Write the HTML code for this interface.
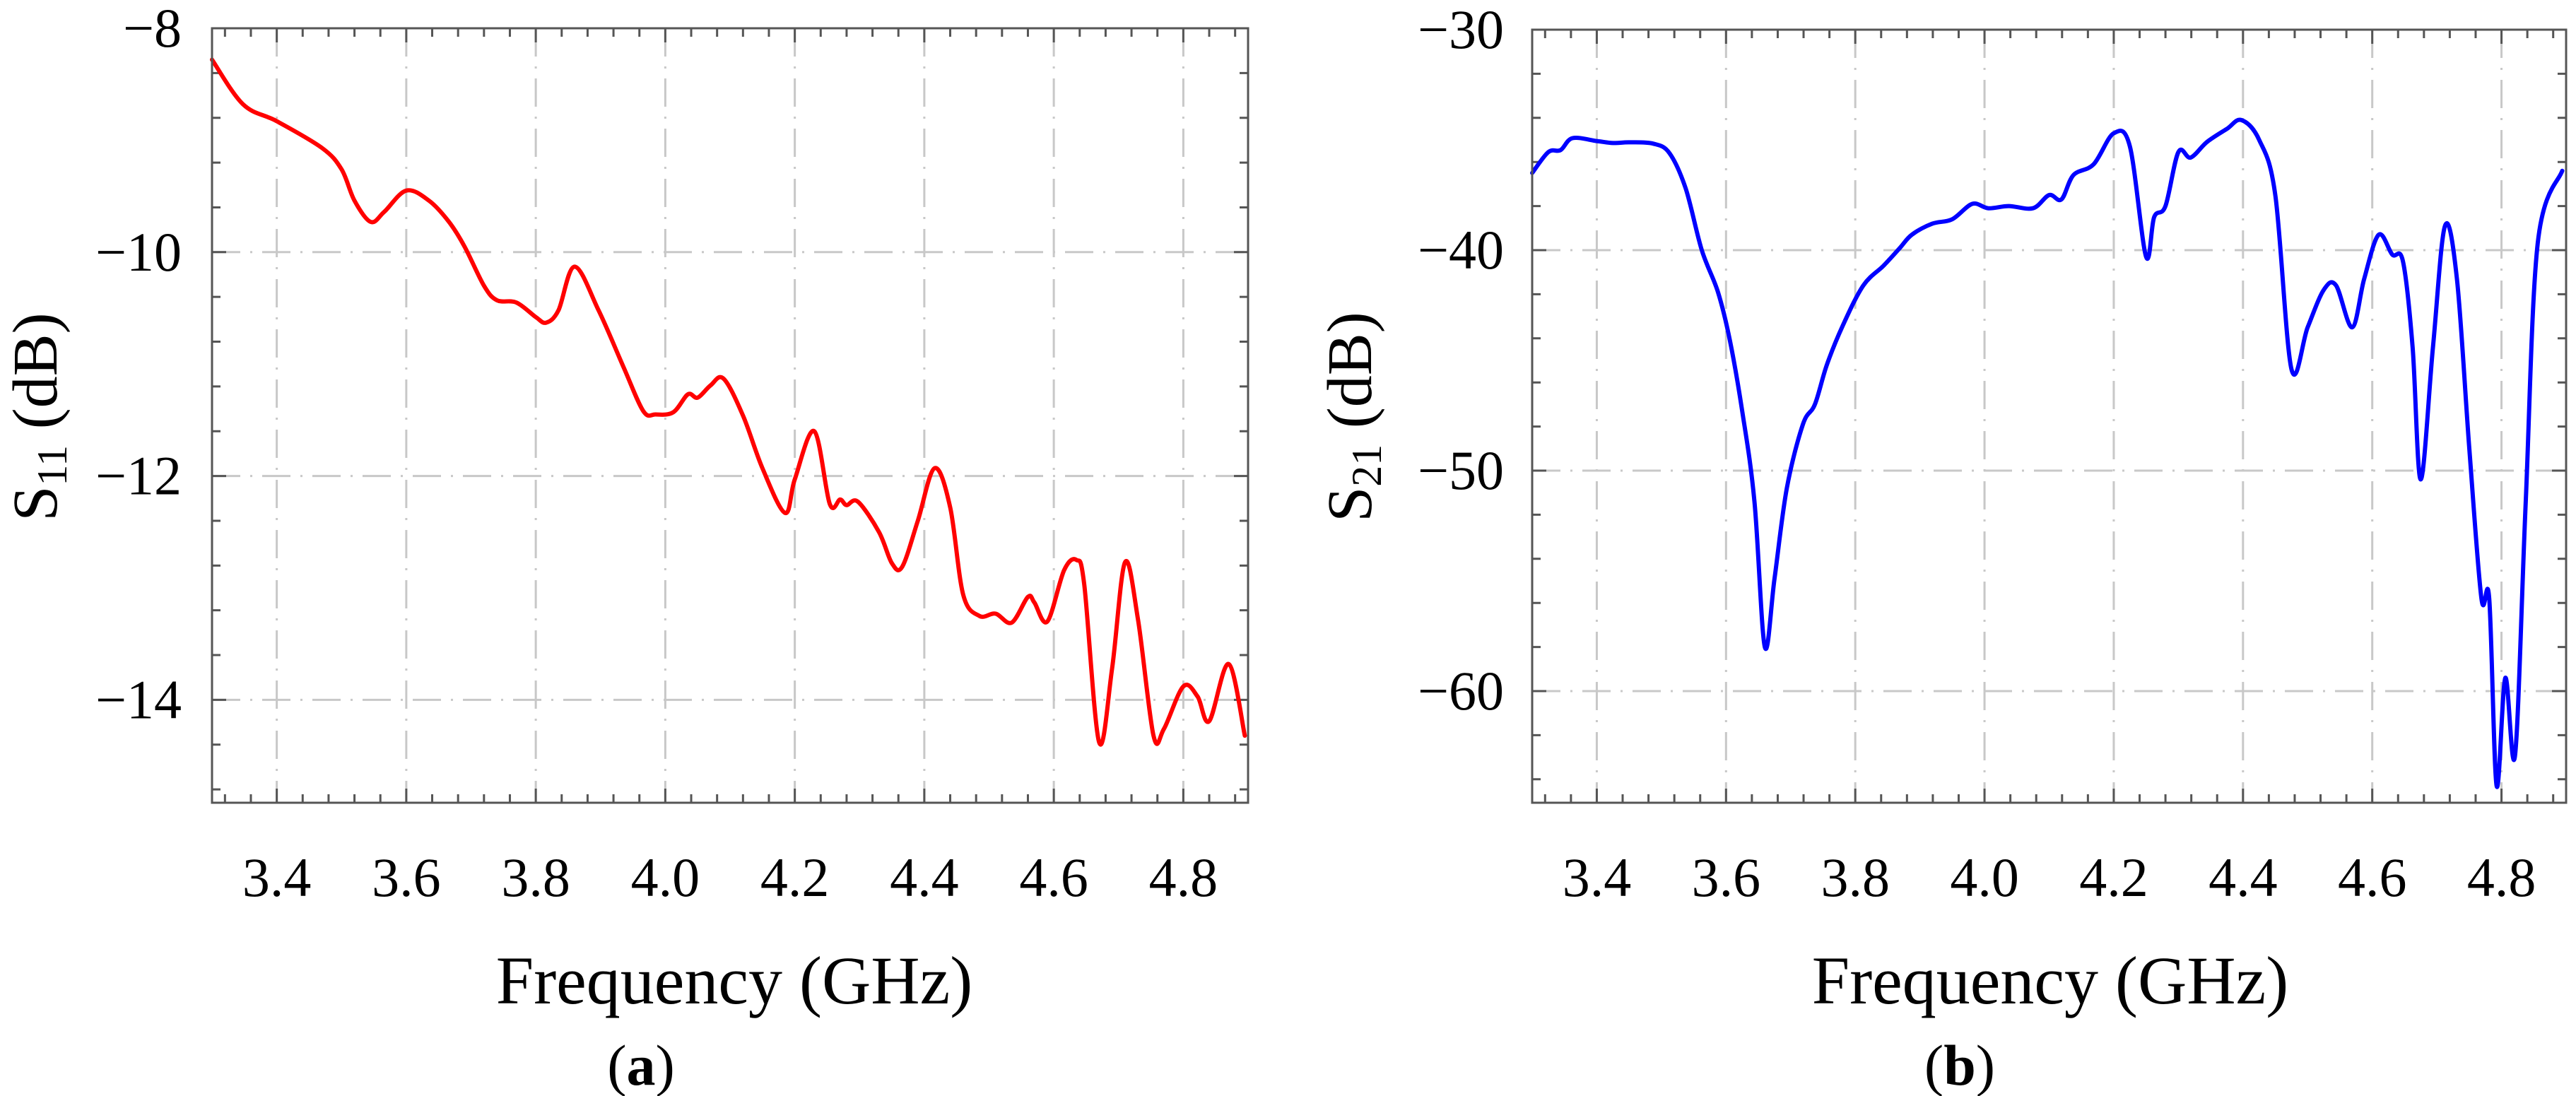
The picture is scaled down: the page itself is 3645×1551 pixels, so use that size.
<!DOCTYPE html>
<html><head><meta charset="utf-8"><style>
html,body{margin:0;padding:0;background:#fff;}
svg{display:block;font-family:"Liberation Serif",serif;}
</style></head><body>
<svg id="chart" width="3645" height="1551" viewBox="0 0 3645 1551" xmlns="http://www.w3.org/2000/svg"></svg>
<script>
const xTicks = [3.4,3.6,3.8,4.0,4.2,4.4,4.6,4.8];
const xTickLabels = ["3.4","3.6","3.8","4.0","4.2","4.4","4.6","4.8"];
const s11Ticks = [-8,-10,-12,-14];
const s11TickLabels = ["\u22128","\u221210","\u221212","\u221214"];
const s21Ticks = [-30,-40,-50,-60];
const s21TickLabels = ["\u221230","\u221240","\u221250","\u221260"];
const s11Freq = [3.3,3.348,3.4,3.47,3.5,3.52,3.545,3.566,3.6,3.635,3.666,3.69,3.72,3.74,3.77,3.8,3.816,3.835,3.86,3.897,3.935,3.966,3.985,4.0125,4.035,4.05,4.07,4.09,4.12,4.15,4.185,4.2,4.23,4.254,4.27,4.28,4.2975,4.33,4.35,4.366,4.39,4.416,4.44,4.46,4.485,4.51,4.535,4.56,4.57,4.59,4.616,4.635,4.647,4.67,4.69,4.71,4.73,4.754,4.77,4.8,4.822,4.84,4.87,4.895];
const s11Values = [-8.28,-8.68,-8.83,-9.07,-9.26,-9.54,-9.73,-9.64,-9.45,-9.54,-9.73,-9.95,-10.3,-10.43,-10.45,-10.58,-10.63,-10.52,-10.13,-10.52,-11.02,-11.42,-11.45,-11.43,-11.27,-11.3,-11.19,-11.13,-11.46,-11.93,-12.33,-12.03,-11.6,-12.25,-12.21,-12.26,-12.23,-12.5,-12.78,-12.81,-12.4,-11.93,-12.28,-13.06,-13.25,-13.23,-13.31,-13.08,-13.13,-13.3,-12.84,-12.75,-12.97,-14.38,-13.72,-12.77,-13.28,-14.32,-14.26,-13.88,-13.97,-14.19,-13.68,-14.32];
const s21Freq = [3.3,3.325,3.344,3.3625,3.4,3.425,3.45,3.4875,3.5125,3.5375,3.5625,3.5875,3.606,3.625,3.644,3.66,3.675,3.694,3.719,3.7375,3.756,3.781,3.8125,3.844,3.869,3.8875,3.919,3.95,3.981,4.006,4.0375,4.075,4.1,4.119,4.1375,4.169,4.2,4.225,4.25,4.2625,4.28,4.3,4.319,4.344,4.375,4.3975,4.425,4.45,4.475,4.5,4.525,4.544,4.569,4.5875,4.61,4.631,4.6475,4.6625,4.675,4.694,4.7125,4.731,4.75,4.769,4.781,4.7925,4.806,4.821,4.8375,4.856,4.894];
const s21Values = [-36.5,-35.55,-35.46,-34.92,-35.05,-35.14,-35.11,-35.17,-35.6,-37.2,-40,-41.9,-44.1,-47.3,-51.4,-58,-54.9,-50.8,-47.9,-47,-45.2,-43.4,-41.6,-40.7,-39.9,-39.3,-38.8,-38.6,-37.9,-38.1,-38,-38.1,-37.5,-37.7,-36.6,-36.1,-34.7,-35.3,-40.3,-38.5,-38,-35.55,-35.8,-35.1,-34.5,-34.1,-35,-37.5,-45.4,-43.5,-41.8,-41.6,-43.5,-41.3,-39.3,-40.2,-40.5,-44.4,-50.4,-44.4,-38.9,-41.3,-48.9,-55.8,-55.8,-64.3,-59.4,-62.9,-51.4,-39.7,-36.4];

const NS="http://www.w3.org/2000/svg";
const svg=document.getElementById('chart');
function mk(tag,attrs,parent){const e=document.createElementNS(NS,tag);for(const k in attrs)e.setAttribute(k,attrs[k]);(parent||svg).appendChild(e);return e;}
function smooth(P){let d=`M${P[0][0].toFixed(1)},${P[0][1].toFixed(1)}`;
  for(let i=0;i<P.length-1;i++){const p0=P[Math.max(0,i-1)],p1=P[i],p2=P[i+1],p3=P[Math.min(P.length-1,i+2)];
    const c1=[p1[0]+(p2[0]-p0[0])/6,p1[1]+(p2[1]-p0[1])/6],c2=[p2[0]-(p3[0]-p1[0])/6,p2[1]-(p3[1]-p1[1])/6];
    d+=`C${c1[0].toFixed(1)},${c1[1].toFixed(1)} ${c2[0].toFixed(1)},${c2[1].toFixed(1)} ${p2[0].toFixed(1)},${p2[1].toFixed(1)}`;}
  return d;}

function panel(cfg){
  const g=mk('g',{});
  
  
  const {x0,x1,y0,y1}=cfg;
  const X=f=>x0+(f-3.3)/(1.6)*(x1-x0);
  const Y=v=>cfg.yTop+(cfg.vTop-v)*cfg.pxPerUnit;
  xTicks.forEach(t=>{const l=mk('line',{x1:X(t),x2:X(t),y1:y0,y2:y1,stroke:'#c8c8c8','stroke-width':3,'stroke-dasharray':'40 14 3 14'},g);
    
    });
  cfg.ticks.forEach(t=>{const l=mk('line',{x1:x0,x2:x1,y1:Y(t),y2:Y(t),stroke:'#c8c8c8','stroke-width':3,'stroke-dasharray':'40 14 3 14'},g);
    
    });
  let d='';
  for(let f=3.32;f<4.9;f+=0.04){const x=X(f);const major=Math.abs(Math.round(f*5)-f*5)<0.01;const L=major?20:12;
    d+=`M${x},${y1}v${-L}M${x},${y0}v${L}`;}
  for(let v=cfg.vTop;v>=cfg.vBot;v-=cfg.minor){const y=Y(v);const major=cfg.ticks.some(t=>Math.abs(t-v)<1e-6);const L=major?20:12;
    d+=`M${x0},${y}h${L}M${x1},${y}h${-L}`;}
  const tk=mk('path',{d:d,stroke:'#555','stroke-width':3,fill:'none'},g);
  
  
  const P=cfg.fx.map((f,i)=>[X(f),Y(cfg.vals[i])]);
  const pl=mk('path',{d:smooth(P),fill:'none',stroke:cfg.color,'stroke-width':6,'stroke-linejoin':'round','stroke-linecap':'round'},g);
  
  
  const fr=mk('rect',{x:x0,y:y0,width:x1-x0,height:y1-y0,fill:'none',stroke:'#555','stroke-width':3},g);
  
  
  xTicks.forEach((t,i)=>{const tx=mk('text',{x:X(t),y:1268,'font-size':78,'text-anchor':'middle'},g);tx.textContent=xTickLabels[i];
    
    });
  cfg.ticks.forEach((t,i)=>{const tx=mk('text',{x:cfg.labelRight,y:Y(t)+26,'font-size':78,'text-anchor':'end'},g);tx.textContent=cfg.tickLabels[i];
    
    });
  const xt=mk('text',{x:cfg.xTitleX,y:1420,'font-size':96,'text-anchor':'middle'},g);xt.textContent='Frequency (GHz)';
  
  
  const yt=mk('text',{x:0,y:0,'font-size':90,'text-anchor':'middle',transform:`translate(${cfg.yTitleX},${cfg.yTitleY}) rotate(-90)`},g);
  yt.innerHTML=`S<tspan font-size="60" dy="14">${cfg.sub}</tspan><tspan dy="-14"> (dB)</tspan>`;
  
  
  const cap=mk('text',{x:cfg.capX,y:1535,'font-size':82,'text-anchor':'middle'},g);
  cap.innerHTML=`(<tspan font-weight="bold">${cfg.cap}</tspan>)`;
  
  
}
panel({name:'panel-a-s11',x0:300,x1:1766,y0:40,y1:1136,yTop:40,vTop:-8,pxPerUnit:158.4,vBot:-14.92,minor:0.4,
  ticks:s11Ticks,tickLabels:s11TickLabels,fx:s11Freq,vals:s11Values,color:'#ff0000',seriesName:'s11-curve',
  labelRight:257,xTitleX:1039,yTitleX:80,yTitleY:590,sub:'11',capX:907,cap:'a'});
panel({name:'panel-b-s21',x0:2168,x1:3631,y0:42,y1:1136,yTop:42,vTop:-30,pxPerUnit:31.2,vBot:-65,minor:2,
  ticks:s21Ticks,tickLabels:s21TickLabels,fx:s21Freq,vals:s21Values,color:'#0000ff',seriesName:'s21-curve',
  labelRight:2128,xTitleX:2901,yTitleX:1940,yTitleY:590,sub:'21',capX:2773,cap:'b'});
</script>
</body></html>
